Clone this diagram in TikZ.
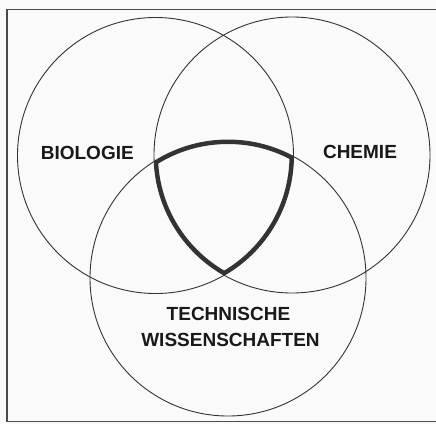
\documentclass[tikz,border=0pt]{standalone}
\usepackage{fontspec}
\setsansfont{Liberation Sans}
\usetikzlibrary{calc}

\begin{document}
\begin{tikzpicture}[x=1pt,y=-1pt,
  ring/.style={draw=black!80,line width=.9pt},
  field/.style={font=\sffamily\bfseries\fontsize{19}{28}\selectfont,text=black!90,inner sep=0pt},
  core/.style={draw=black!80,line width=8pt}]
\useasboundingbox[fill=black!2] (0,0) rectangle (436,424);
\draw[black!70,line width=1.2pt] (436,9.5) -- (7,9.5) -- (7,421.5) -- (436,421.5);
\coordinate (bio) at (155.5,155.5);
\coordinate (chem) at (292,155);
\coordinate (tech) at (228,278);
\draw[ring] (bio) circle[radius=138pt];
\draw[ring] (chem) circle[radius=138pt];
\draw[ring] (tech) circle[radius=138pt];
\begin{scope}
\clip (bio) circle[radius=138pt];
\clip (chem) circle[radius=138pt];
\clip (tech) circle[radius=138pt];
\draw[core] (bio) circle[radius=138pt] (chem) circle[radius=138pt] (tech) circle[radius=138pt];
\end{scope}
\node[field] (biolabel) at (87.3,153) {BIOLOGIE};
\node[field] (chemlabel) at (360,151.5) {CHEMIE};
\node[field] (techlabel) at (228.5,314) {TECHNISCHE};
\node[field] (wisslabel) at (230.5,340.3) {WISSENSCHAFTEN};
\end{tikzpicture}
\end{document}
